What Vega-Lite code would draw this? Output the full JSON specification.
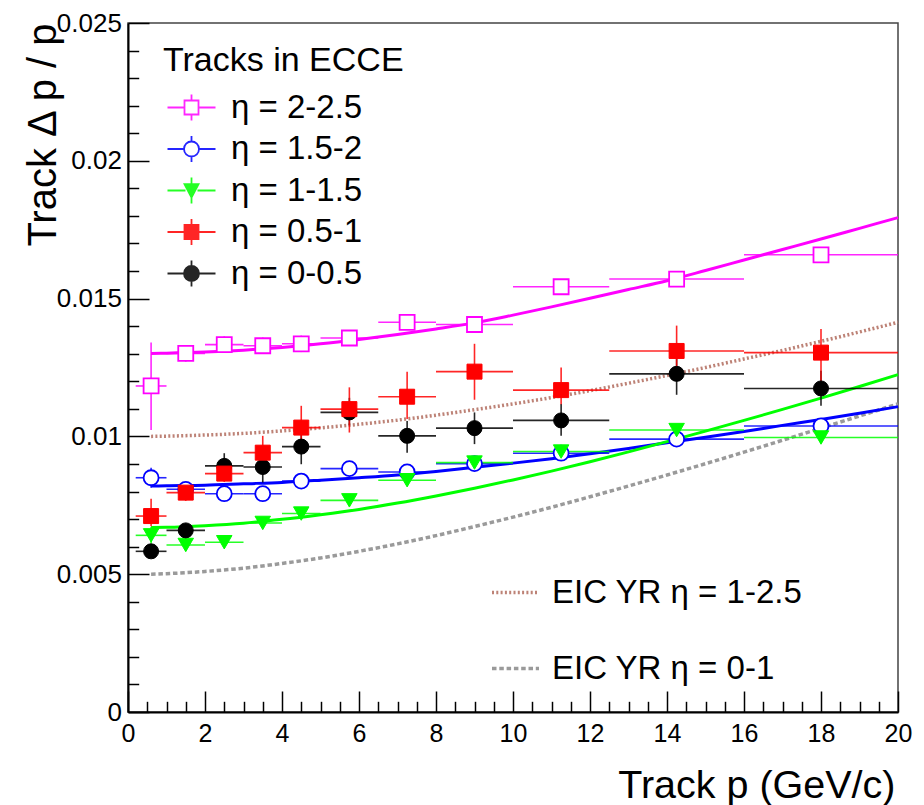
{
  "$schema": "https://vega.github.io/schema/vega-lite/v6.json",
  "width": 770,
  "height": 689,
  "autosize": {"type": "none"},
  "padding": {"left": 128, "top": 23, "right": 26, "bottom": 93},
  "background": "white",
  "config": {
    "font": "Liberation Sans",
    "view": {"stroke": "#444444", "strokeWidth": 1.5},
    "axis": {"domainColor": "black", "domainWidth": 2, "tickColor": "black", "tickWidth": 1.5, "labelFont": "Liberation Sans", "labelColor": "black", "titleFont": "Liberation Sans", "titleColor": "black", "titleFontWeight": "normal", "grid": false, "labelOverlap": false, "labelFlush": false},
    "legend": {"labelFont": "Liberation Sans", "titleFont": "Liberation Sans", "labelColor": "black", "titleColor": "black"}
  },
  "datasets": {
    "pts": [
      {"eta": "η = 2-2.5", "p": 0.6, "plo": 0.2, "phi": 1, "r": 0.01183, "rlo": 0.01023, "rhi": 0.01341},
      {"eta": "η = 2-2.5", "p": 1.5, "plo": 1, "phi": 2, "r": 0.01301, "rlo": 0.01271, "rhi": 0.01331},
      {"eta": "η = 2-2.5", "p": 2.5, "plo": 2, "phi": 3, "r": 0.01333, "rlo": 0.01303, "rhi": 0.01363},
      {"eta": "η = 2-2.5", "p": 3.5, "plo": 3, "phi": 4, "r": 0.01329, "rlo": 0.01299, "rhi": 0.01359},
      {"eta": "η = 2-2.5", "p": 4.5, "plo": 4, "phi": 5, "r": 0.01336, "rlo": 0.01306, "rhi": 0.01366},
      {"eta": "η = 2-2.5", "p": 5.75, "plo": 5, "phi": 6.5, "r": 0.01357, "rlo": 0.01335, "rhi": 0.01379},
      {"eta": "η = 2-2.5", "p": 7.25, "plo": 6.5, "phi": 8, "r": 0.01414, "rlo": 0.01392, "rhi": 0.01436},
      {"eta": "η = 2-2.5", "p": 9, "plo": 8, "phi": 10, "r": 0.01406, "rlo": 0.01384, "rhi": 0.01428},
      {"eta": "η = 2-2.5", "p": 11.25, "plo": 10, "phi": 12.5, "r": 0.01543, "rlo": 0.01521, "rhi": 0.01565},
      {"eta": "η = 2-2.5", "p": 14.25, "plo": 12.5, "phi": 16, "r": 0.01571, "rlo": 0.01549, "rhi": 0.01593},
      {"eta": "η = 2-2.5", "p": 18, "plo": 16, "phi": 20, "r": 0.01659, "rlo": 0.01637, "rhi": 0.01681},
      {"eta": "η = 1.5-2", "p": 0.6, "plo": 0.2, "phi": 1, "r": 0.0085, "rlo": 0.00814, "rhi": 0.00886},
      {"eta": "η = 1.5-2", "p": 1.5, "plo": 1, "phi": 2, "r": 0.00808, "rlo": 0.00785, "rhi": 0.00831},
      {"eta": "η = 1.5-2", "p": 2.5, "plo": 2, "phi": 3, "r": 0.00792, "rlo": 0.00772, "rhi": 0.00812},
      {"eta": "η = 1.5-2", "p": 3.5, "plo": 3, "phi": 4, "r": 0.00792, "rlo": 0.00772, "rhi": 0.00812},
      {"eta": "η = 1.5-2", "p": 4.5, "plo": 4, "phi": 5, "r": 0.00838, "rlo": 0.00818, "rhi": 0.00858},
      {"eta": "η = 1.5-2", "p": 5.75, "plo": 5, "phi": 6.5, "r": 0.00883, "rlo": 0.00863, "rhi": 0.00903},
      {"eta": "η = 1.5-2", "p": 7.25, "plo": 6.5, "phi": 8, "r": 0.00871, "rlo": 0.00851, "rhi": 0.00891},
      {"eta": "η = 1.5-2", "p": 9, "plo": 8, "phi": 10, "r": 0.00901, "rlo": 0.00881, "rhi": 0.00921},
      {"eta": "η = 1.5-2", "p": 11.25, "plo": 10, "phi": 12.5, "r": 0.00939, "rlo": 0.00919, "rhi": 0.00959},
      {"eta": "η = 1.5-2", "p": 14.25, "plo": 12.5, "phi": 16, "r": 0.0099, "rlo": 0.0097, "rhi": 0.0101},
      {"eta": "η = 1.5-2", "p": 18, "plo": 16, "phi": 20, "r": 0.01038, "rlo": 0.01018, "rhi": 0.01058},
      {"eta": "η = 1-1.5", "p": 0.6, "plo": 0.2, "phi": 1, "r": 0.00641, "rlo": 0.00611, "rhi": 0.00671},
      {"eta": "η = 1-1.5", "p": 1.5, "plo": 1, "phi": 2, "r": 0.00606, "rlo": 0.00586, "rhi": 0.00626},
      {"eta": "η = 1-1.5", "p": 2.5, "plo": 2, "phi": 3, "r": 0.00616, "rlo": 0.00596, "rhi": 0.00636},
      {"eta": "η = 1-1.5", "p": 3.5, "plo": 3, "phi": 4, "r": 0.00686, "rlo": 0.00666, "rhi": 0.00706},
      {"eta": "η = 1-1.5", "p": 4.5, "plo": 4, "phi": 5, "r": 0.0072, "rlo": 0.007, "rhi": 0.0074},
      {"eta": "η = 1-1.5", "p": 5.75, "plo": 5, "phi": 6.5, "r": 0.00768, "rlo": 0.00748, "rhi": 0.00788},
      {"eta": "η = 1-1.5", "p": 7.25, "plo": 6.5, "phi": 8, "r": 0.00841, "rlo": 0.00821, "rhi": 0.00861},
      {"eta": "η = 1-1.5", "p": 9, "plo": 8, "phi": 10, "r": 0.00905, "rlo": 0.00885, "rhi": 0.00925},
      {"eta": "η = 1-1.5", "p": 11.25, "plo": 10, "phi": 12.5, "r": 0.00945, "rlo": 0.00925, "rhi": 0.00965},
      {"eta": "η = 1-1.5", "p": 14.25, "plo": 12.5, "phi": 16, "r": 0.01023, "rlo": 0.01003, "rhi": 0.01043},
      {"eta": "η = 1-1.5", "p": 18, "plo": 16, "phi": 20, "r": 0.00996, "rlo": 0.00976, "rhi": 0.01016},
      {"eta": "η = 0-0.5", "p": 0.6, "plo": 0.2, "phi": 1, "r": 0.00583, "rlo": 0.00563, "rhi": 0.00603},
      {"eta": "η = 0-0.5", "p": 1.5, "plo": 1, "phi": 2, "r": 0.00659, "rlo": 0.00639, "rhi": 0.00679},
      {"eta": "η = 0-0.5", "p": 2.5, "plo": 2, "phi": 3, "r": 0.00893, "rlo": 0.00848, "rhi": 0.00939},
      {"eta": "η = 0-0.5", "p": 3.5, "plo": 3, "phi": 4, "r": 0.00889, "rlo": 0.00833, "rhi": 0.00945},
      {"eta": "η = 0-0.5", "p": 4.5, "plo": 4, "phi": 5, "r": 0.00963, "rlo": 0.00899, "rhi": 0.0102},
      {"eta": "η = 0-0.5", "p": 5.75, "plo": 5, "phi": 6.5, "r": 0.01087, "rlo": 0.0104, "rhi": 0.0114},
      {"eta": "η = 0-0.5", "p": 7.25, "plo": 6.5, "phi": 8, "r": 0.01002, "rlo": 0.00941, "rhi": 0.01056},
      {"eta": "η = 0-0.5", "p": 9, "plo": 8, "phi": 10, "r": 0.0103, "rlo": 0.00972, "rhi": 0.01087},
      {"eta": "η = 0-0.5", "p": 11.25, "plo": 10, "phi": 12.5, "r": 0.01058, "rlo": 0.01002, "rhi": 0.01118},
      {"eta": "η = 0-0.5", "p": 14.25, "plo": 12.5, "phi": 16, "r": 0.01227, "rlo": 0.01151, "rhi": 0.01303},
      {"eta": "η = 0-0.5", "p": 18, "plo": 16, "phi": 20, "r": 0.01174, "rlo": 0.01111, "rhi": 0.01238},
      {"eta": "η = 0.5-1", "p": 0.6, "plo": 0.2, "phi": 1, "r": 0.00711, "rlo": 0.00674, "rhi": 0.00774},
      {"eta": "η = 0.5-1", "p": 1.5, "plo": 1, "phi": 2, "r": 0.00796, "rlo": 0.00766, "rhi": 0.00826},
      {"eta": "η = 0.5-1", "p": 2.5, "plo": 2, "phi": 3, "r": 0.00865, "rlo": 0.00835, "rhi": 0.00895},
      {"eta": "η = 0.5-1", "p": 3.5, "plo": 3, "phi": 4, "r": 0.00941, "rlo": 0.00874, "rhi": 0.01002},
      {"eta": "η = 0.5-1", "p": 4.5, "plo": 4, "phi": 5, "r": 0.01032, "rlo": 0.00959, "rhi": 0.01111},
      {"eta": "η = 0.5-1", "p": 5.75, "plo": 5, "phi": 6.5, "r": 0.01099, "rlo": 0.01014, "rhi": 0.01178},
      {"eta": "η = 0.5-1", "p": 7.25, "plo": 6.5, "phi": 8, "r": 0.01144, "rlo": 0.01063, "rhi": 0.01235},
      {"eta": "η = 0.5-1", "p": 9, "plo": 8, "phi": 10, "r": 0.01235, "rlo": 0.01133, "rhi": 0.01336},
      {"eta": "η = 0.5-1", "p": 11.25, "plo": 10, "phi": 12.5, "r": 0.01168, "rlo": 0.01117, "rhi": 0.0125},
      {"eta": "η = 0.5-1", "p": 14.25, "plo": 12.5, "phi": 16, "r": 0.0131, "rlo": 0.01226, "rhi": 0.01402},
      {"eta": "η = 0.5-1", "p": 18, "plo": 16, "phi": 20, "r": 0.01304, "rlo": 0.01202, "rhi": 0.0139}
    ],
    "fits": [
      {"eta": "η = 2-2.5", "p": 0.6, "r": 0.01301}, {"eta": "η = 2-2.5", "p": 1, "r": 0.01302}, {"eta": "η = 2-2.5", "p": 2, "r": 0.01306}, {"eta": "η = 2-2.5", "p": 3, "r": 0.01313}, {"eta": "η = 2-2.5", "p": 4, "r": 0.01323}, {"eta": "η = 2-2.5", "p": 5, "r": 0.01336}, {"eta": "η = 2-2.5", "p": 6, "r": 0.01352}, {"eta": "η = 2-2.5", "p": 7, "r": 0.0137}, {"eta": "η = 2-2.5", "p": 8, "r": 0.0139}, {"eta": "η = 2-2.5", "p": 9, "r": 0.01412}, {"eta": "η = 2-2.5", "p": 10, "r": 0.0144}, {"eta": "η = 2-2.5", "p": 11, "r": 0.0147}, {"eta": "η = 2-2.5", "p": 12, "r": 0.01501}, {"eta": "η = 2-2.5", "p": 13, "r": 0.01533}, {"eta": "η = 2-2.5", "p": 14, "r": 0.01565}, {"eta": "η = 2-2.5", "p": 15, "r": 0.01602}, {"eta": "η = 2-2.5", "p": 16, "r": 0.0164}, {"eta": "η = 2-2.5", "p": 17, "r": 0.01678}, {"eta": "η = 2-2.5", "p": 18, "r": 0.01716}, {"eta": "η = 2-2.5", "p": 19, "r": 0.01755}, {"eta": "η = 2-2.5", "p": 20, "r": 0.01794},
      {"eta": "η = 1.5-2", "p": 0.6, "r": 0.0082}, {"eta": "η = 1.5-2", "p": 1, "r": 0.00821}, {"eta": "η = 1.5-2", "p": 2, "r": 0.00823}, {"eta": "η = 1.5-2", "p": 3, "r": 0.00828}, {"eta": "η = 1.5-2", "p": 4, "r": 0.00833}, {"eta": "η = 1.5-2", "p": 5, "r": 0.00841}, {"eta": "η = 1.5-2", "p": 6, "r": 0.0085}, {"eta": "η = 1.5-2", "p": 7, "r": 0.0086}, {"eta": "η = 1.5-2", "p": 8, "r": 0.00873}, {"eta": "η = 1.5-2", "p": 9, "r": 0.00888}, {"eta": "η = 1.5-2", "p": 10, "r": 0.00903}, {"eta": "η = 1.5-2", "p": 11, "r": 0.00919}, {"eta": "η = 1.5-2", "p": 12, "r": 0.00937}, {"eta": "η = 1.5-2", "p": 13, "r": 0.00956}, {"eta": "η = 1.5-2", "p": 14, "r": 0.00977}, {"eta": "η = 1.5-2", "p": 15, "r": 0.00997}, {"eta": "η = 1.5-2", "p": 16, "r": 0.01018}, {"eta": "η = 1.5-2", "p": 17, "r": 0.0104}, {"eta": "η = 1.5-2", "p": 18, "r": 0.01061}, {"eta": "η = 1.5-2", "p": 19, "r": 0.01084}, {"eta": "η = 1.5-2", "p": 20, "r": 0.01108},
      {"eta": "η = 1-1.5", "p": 0.6, "r": 0.00669}, {"eta": "η = 1-1.5", "p": 1, "r": 0.0067}, {"eta": "η = 1-1.5", "p": 2, "r": 0.00676}, {"eta": "η = 1-1.5", "p": 3, "r": 0.00685}, {"eta": "η = 1-1.5", "p": 4, "r": 0.00699}, {"eta": "η = 1-1.5", "p": 5, "r": 0.00716}, {"eta": "η = 1-1.5", "p": 6, "r": 0.00735}, {"eta": "η = 1-1.5", "p": 7, "r": 0.00758}, {"eta": "η = 1-1.5", "p": 8, "r": 0.00784}, {"eta": "η = 1-1.5", "p": 9, "r": 0.00812}, {"eta": "η = 1-1.5", "p": 10, "r": 0.00842}, {"eta": "η = 1-1.5", "p": 11, "r": 0.00874}, {"eta": "η = 1-1.5", "p": 12, "r": 0.00908}, {"eta": "η = 1-1.5", "p": 13, "r": 0.00944}, {"eta": "η = 1-1.5", "p": 14, "r": 0.00981}, {"eta": "η = 1-1.5", "p": 15, "r": 0.01019}, {"eta": "η = 1-1.5", "p": 16, "r": 0.01058}, {"eta": "η = 1-1.5", "p": 17, "r": 0.01098}, {"eta": "η = 1-1.5", "p": 18, "r": 0.01139}, {"eta": "η = 1-1.5", "p": 19, "r": 0.01181}, {"eta": "η = 1-1.5", "p": 20, "r": 0.01224}
    ],
    "yr": [
      {"yr": "EIC YR η = 1-2.5", "p": 0.6, "r": 0.01}, {"yr": "EIC YR η = 1-2.5", "p": 1, "r": 0.01001}, {"yr": "EIC YR η = 1-2.5", "p": 2, "r": 0.01005}, {"yr": "EIC YR η = 1-2.5", "p": 3, "r": 0.01011}, {"yr": "EIC YR η = 1-2.5", "p": 4, "r": 0.0102}, {"yr": "EIC YR η = 1-2.5", "p": 5, "r": 0.01031}, {"yr": "EIC YR η = 1-2.5", "p": 6, "r": 0.01044}, {"yr": "EIC YR η = 1-2.5", "p": 7, "r": 0.01059}, {"yr": "EIC YR η = 1-2.5", "p": 8, "r": 0.01077}, {"yr": "EIC YR η = 1-2.5", "p": 9, "r": 0.01097}, {"yr": "EIC YR η = 1-2.5", "p": 10, "r": 0.01118}, {"yr": "EIC YR η = 1-2.5", "p": 11, "r": 0.01141}, {"yr": "EIC YR η = 1-2.5", "p": 12, "r": 0.01166}, {"yr": "EIC YR η = 1-2.5", "p": 13, "r": 0.01193}, {"yr": "EIC YR η = 1-2.5", "p": 14, "r": 0.01221}, {"yr": "EIC YR η = 1-2.5", "p": 15, "r": 0.0125}, {"yr": "EIC YR η = 1-2.5", "p": 16, "r": 0.01281}, {"yr": "EIC YR η = 1-2.5", "p": 17, "r": 0.01312}, {"yr": "EIC YR η = 1-2.5", "p": 18, "r": 0.01345}, {"yr": "EIC YR η = 1-2.5", "p": 19, "r": 0.01379}, {"yr": "EIC YR η = 1-2.5", "p": 20, "r": 0.01414},
      {"yr": "EIC YR η = 0-1", "p": 0.6, "r": 0.005}, {"yr": "EIC YR η = 0-1", "p": 1, "r": 0.00502}, {"yr": "EIC YR η = 0-1", "p": 2, "r": 0.0051}, {"yr": "EIC YR η = 0-1", "p": 3, "r": 0.00522}, {"yr": "EIC YR η = 0-1", "p": 4, "r": 0.00539}, {"yr": "EIC YR η = 0-1", "p": 5, "r": 0.00559}, {"yr": "EIC YR η = 0-1", "p": 6, "r": 0.00583}, {"yr": "EIC YR η = 0-1", "p": 7, "r": 0.0061}, {"yr": "EIC YR η = 0-1", "p": 8, "r": 0.0064}, {"yr": "EIC YR η = 0-1", "p": 9, "r": 0.00673}, {"yr": "EIC YR η = 0-1", "p": 10, "r": 0.00707}, {"yr": "EIC YR η = 0-1", "p": 11, "r": 0.00743}, {"yr": "EIC YR η = 0-1", "p": 12, "r": 0.00781}, {"yr": "EIC YR η = 0-1", "p": 13, "r": 0.0082}, {"yr": "EIC YR η = 0-1", "p": 14, "r": 0.0086}, {"yr": "EIC YR η = 0-1", "p": 15, "r": 0.00901}, {"yr": "EIC YR η = 0-1", "p": 16, "r": 0.00943}, {"yr": "EIC YR η = 0-1", "p": 17, "r": 0.00986}, {"yr": "EIC YR η = 0-1", "p": 18, "r": 0.0103}, {"yr": "EIC YR η = 0-1", "p": 19, "r": 0.01074}, {"yr": "EIC YR η = 0-1", "p": 20, "r": 0.01118}
    ]
  },
  "encoding": {
    "x": {"type": "quantitative", "scale": {"domain": [0, 20], "nice": false, "zero": false},
      "axis": {
        "values": [0,0.5,1,1.5,2,2.5,3,3.5,4,4.5,5,5.5,6,6.5,7,7.5,8,8.5,9,9.5,10,10.5,11,11.5,12,12.5,13,13.5,14,14.5,15,15.5,16,16.5,17,17.5,18,18.5,19,19.5,20],
        "tickSize": {"condition": {"test": "datum.value % 2 === 0", "value": -21}, "value": -10.7},
        "labelExpr": "datum.value % 2 === 0 ? format(datum.value, 'd') : ''",
        "labelFontSize": 25, "labelPadding": 30,
        "title": "Track p (GeV/c)", "titleFontSize": 39.5, "titleX": 767, "titleY": 85, "titleAlign": "right", "titleBaseline": "alphabetic", "titleAnchor": "end"
      }
    },
    "y": {"type": "quantitative", "scale": {"domain": [0, 0.025], "nice": false, "zero": false},
      "axis": {
        "values": [0,0.001,0.002,0.003,0.004,0.005,0.006,0.007,0.008,0.009,0.01,0.011,0.012,0.013,0.014,0.015,0.016,0.017,0.018,0.019,0.02,0.021,0.022,0.023,0.024,0.025],
        "tickSize": {"condition": {"test": "round(datum.value*1000) % 5 === 0", "value": -21}, "value": -10.7},
        "labelExpr": "round(datum.value*1000) % 5 === 0 ? format(datum.value, '.3~f') : ''",
        "labelFontSize": 26, "labelPadding": 27.6,
        "title": "Track Δ p / p", "titleFontSize": 40, "titleX": -73, "titleY": 0, "titleAngle": 270, "titleAlign": "right", "titleBaseline": "alphabetic", "titleAnchor": "end"
      }
    }
  },
  "layer": [
    {
      "data": {"name": "yr"},
      "mark": {"type": "line", "strokeWidth": 3.5, "interpolate": "monotone"},
      "encoding": {
        "x": {"field": "p", "type": "quantitative"},
        "y": {"field": "r", "type": "quantitative"},
        "color": {"field": "yr", "type": "nominal", "scale": {"domain": ["EIC YR η = 1-2.5", "EIC YR η = 0-1"], "range": ["#bd8276", "#9a9a9a"]},
          "legend": {"title": null, "orient": "none", "legendX": 362, "legendY": 544, "symbolType": "stroke", "symbolSize": 2209, "symbolStrokeWidth": 3.5, "rowPadding": 33, "labelOffset": 11, "labelFontSize": 33, "labelLimit": 500, "padding": 0}},
        "strokeDash": {"field": "yr", "type": "nominal", "scale": {"domain": ["EIC YR η = 1-2.5", "EIC YR η = 0-1"], "range": [[2, 2.3], [4.5, 2.8]]},
          "legend": {"title": null, "orient": "none", "legendX": 362, "legendY": 544, "symbolType": "stroke", "symbolSize": 2209, "symbolStrokeWidth": 3.5, "rowPadding": 33, "labelOffset": 11, "labelFontSize": 33, "labelLimit": 500, "padding": 0}}
      }
    },
    {
      "data": {"name": "fits"},
      "mark": {"type": "line", "strokeWidth": 3, "interpolate": "monotone"},
      "encoding": {
        "x": {"field": "p", "type": "quantitative"},
        "y": {"field": "r", "type": "quantitative"},
        "stroke": {"field": "eta", "type": "nominal", "scale": {"domain": ["η = 2-2.5", "η = 1.5-2", "η = 1-1.5", "η = 0.5-1", "η = 0-0.5"], "range": ["#ff00ff", "#0000ff", "#00ff00", "#ff0000", "#000000"]}}
      }
    },
    {
      "data": {"name": "pts"},
      "mark": {"type": "rule", "strokeWidth": 1.6, "opacity": 0.85},
      "encoding": {
        "x": {"field": "plo", "type": "quantitative"},
        "x2": {"field": "phi"},
        "y": {"field": "r", "type": "quantitative"},
        "stroke": {"field": "eta", "type": "nominal", "scale": {"domain": ["η = 2-2.5", "η = 1.5-2", "η = 1-1.5", "η = 0.5-1", "η = 0-0.5"], "range": ["#ff00ff", "#0000ff", "#00ff00", "#ff0000", "#000000"]}}
      }
    },
    {
      "data": {"name": "pts"},
      "mark": {"type": "rule", "strokeWidth": 1.6, "opacity": 0.85},
      "encoding": {
        "x": {"field": "p", "type": "quantitative"},
        "y": {"field": "rlo", "type": "quantitative"},
        "y2": {"field": "rhi"},
        "stroke": {"field": "eta", "type": "nominal", "scale": {"domain": ["η = 2-2.5", "η = 1.5-2", "η = 1-1.5", "η = 0.5-1", "η = 0-0.5"], "range": ["#ff00ff", "#0000ff", "#00ff00", "#ff0000", "#000000"]}}
      }
    },
    {
      "data": {"name": "pts"},
      "transform": [{"filter": "datum.eta === 'η = 2-2.5'"}],
      "mark": {"type": "point", "shape": "square", "size": 225, "filled": false, "fill": "#ffffff", "stroke": "#ff00ff", "strokeWidth": 1.8, "opacity": 1},
      "encoding": {"x": {"field": "p", "type": "quantitative"}, "y": {"field": "r", "type": "quantitative"}}
    },
    {
      "data": {"name": "pts"},
      "transform": [{"filter": "datum.eta === 'η = 1.5-2'"}],
      "mark": {"type": "point", "shape": "circle", "size": 225, "filled": false, "fill": "#ffffff", "stroke": "#0000ff", "strokeWidth": 1.8, "opacity": 1},
      "encoding": {"x": {"field": "p", "type": "quantitative"}, "y": {"field": "r", "type": "quantitative"}}
    },
    {
      "data": {"name": "pts"},
      "transform": [{"filter": "datum.eta === 'η = 1-1.5'"}],
      "mark": {"type": "point", "shape": "triangle-down", "size": 240, "filled": true, "fill": "#00ff00", "stroke": "#00ff00", "strokeWidth": 1, "opacity": 1},
      "encoding": {"x": {"field": "p", "type": "quantitative"}, "y": {"field": "r", "type": "quantitative"}}
    },
    {
      "data": {"name": "pts"},
      "transform": [{"filter": "datum.eta === 'η = 0-0.5'"}],
      "mark": {"type": "point", "shape": "circle", "size": 225, "filled": true, "fill": "#000000", "stroke": "#000000", "strokeWidth": 1, "opacity": 1},
      "encoding": {"x": {"field": "p", "type": "quantitative"}, "y": {"field": "r", "type": "quantitative"}}
    },
    {
      "data": {"name": "pts"},
      "transform": [{"filter": "datum.eta === 'η = 0.5-1'"}],
      "mark": {"type": "point", "shape": "square", "size": 225, "filled": true, "fill": "#ff0000", "stroke": "#ff0000", "strokeWidth": 1, "opacity": 1},
      "encoding": {"x": {"field": "p", "type": "quantitative"}, "y": {"field": "r", "type": "quantitative"}}
    },
    {
      "data": {"name": "pts"},
      "transform": [{"filter": "false"}],
      "mark": {"type": "point", "size": 900, "filled": false, "strokeWidth": 1.8, "opacity": 1},
      "encoding": {
        "x": {"field": "p", "type": "quantitative"},
        "y": {"field": "r", "type": "quantitative"},
        "stroke": {"field": "eta", "type": "nominal", "scale": {"domain": ["η = 2-2.5", "η = 1.5-2", "η = 1-1.5", "η = 0.5-1", "η = 0-0.5"], "range": ["#ff00ff", "#0000ff", "#00ff00", "#ff0000", "#000000"]},
          "legend": {"title": "Tracks in ECCE", "orient": "none", "legendX": 35, "legendY": 21, "padding": 0, "symbolSize": 900, "symbolStrokeWidth": 1.8, "labelOffset": 35, "labelFontSize": 33, "labelLimit": 500, "titleFontSize": 34, "titleFontWeight": "normal", "titleLimit": 500, "titlePadding": 13, "rowPadding": 6.5}},
        "fill": {"field": "eta", "type": "nominal", "scale": {"domain": ["η = 2-2.5", "η = 1.5-2", "η = 1-1.5", "η = 0.5-1", "η = 0-0.5"], "range": ["#ffffff", "#ffffff", "#00ff00", "#ff0000", "#000000"]},
          "legend": {"title": "Tracks in ECCE", "orient": "none", "legendX": 35, "legendY": 21, "padding": 0, "symbolSize": 900, "symbolStrokeWidth": 1.8, "labelOffset": 35, "labelFontSize": 33, "labelLimit": 500, "titleFontSize": 34, "titleFontWeight": "normal", "titleLimit": 500, "titlePadding": 13, "rowPadding": 6.5}},
        "shape": {"field": "eta", "type": "nominal", "scale": {"domain": ["η = 2-2.5", "η = 1.5-2", "η = 1-1.5", "η = 0.5-1", "η = 0-0.5"], "range": [
            "M-0.8,0H0.333M1.267,0H2.4M0.8,-0.867V-0.467M0.8,0.467V0.867M0.333,-0.467H1.267V0.467H0.333Z",
            "M-0.8,0H0.3M1.3,0H2.4M0.8,-0.867V-0.5M0.8,0.5V0.867M0.3,0A0.5,0.5 0 1 0 1.3,0A0.5,0.5 0 1 0 0.3,0Z",
            "M-0.8,0H0.4M1.2,0H2.4M0.8,-0.867V-0.43M0.8,0.47V0.867M0.333,-0.43H1.267L0.8,0.47Z",
            "M-0.8,0H0.333M1.267,0H2.4M0.8,-0.867V-0.467M0.8,0.467V0.867M0.333,-0.467H1.267V0.467H0.333Z",
            "M-0.8,0H0.3M1.3,0H2.4M0.8,-0.867V-0.5M0.8,0.5V0.867M0.3,0A0.5,0.5 0 1 0 1.3,0A0.5,0.5 0 1 0 0.3,0Z"]},
          "legend": {"title": "Tracks in ECCE", "orient": "none", "legendX": 35, "legendY": 21, "padding": 0, "symbolSize": 900, "symbolStrokeWidth": 1.8, "labelOffset": 35, "labelFontSize": 33, "labelLimit": 500, "titleFontSize": 34, "titleFontWeight": "normal", "titleLimit": 500, "titlePadding": 13, "rowPadding": 6.5}}
      }
    }
  ]
}
